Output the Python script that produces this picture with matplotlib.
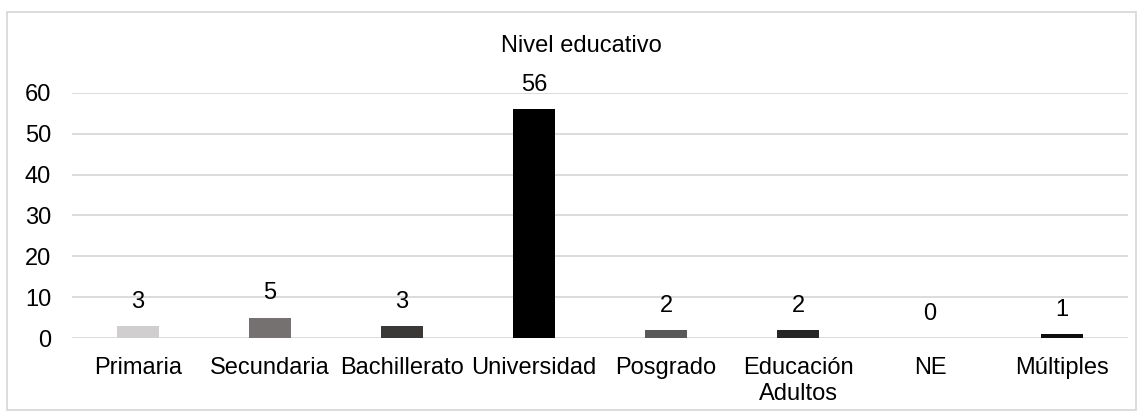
import matplotlib
matplotlib.use("Agg")
import matplotlib.pyplot as plt
from matplotlib.patches import Rectangle

categories = ["Primaria", "Secundaria", "Bachillerato", "Universidad",
              "Posgrado", "Educación\nAdultos", "NE", "Múltiples"]
values = [3, 5, 3, 56, 2, 2, 0, 1]
bar_colors = ["#D0CECE", "#767171", "#3B3838", "#000000",
              "#595959", "#262626", "#404040", "#0D0D0D"]
y_ticks = [0, 10, 20, 30, 40, 50, 60]

plt.rcParams["font.family"] = ["Liberation Sans", "DejaVu Sans"]

fig = plt.figure(figsize=(11.43, 4.17), dpi=100)
ax = fig.add_axes([0.063, 0.1894, 0.924, 0.5877])

x = range(len(categories))
bars = ax.bar(x, values, width=0.32, color=bar_colors, zorder=3)

for b, v in zip(bars, values):
    ax.annotate(str(v), (b.get_x() + b.get_width() / 2, v),
                xytext=(0, 9.5), textcoords="offset points",
                ha="center", va="bottom", fontsize=17, color="#000000")

ax.set_xlim(-0.5, len(categories) - 0.5)
ax.set_ylim(0, 60)
ax.set_yticks(y_ticks)
ax.set_xticks(list(x))
ax.set_xticklabels(categories, fontsize=17, linespacing=1.22)
ax.tick_params(axis="y", labelsize=17, length=0, pad=15)
ax.tick_params(axis="x", length=0, pad=14)
ax.grid(axis="y", color="#D9D9D9", linewidth=1.3, zorder=0)
for s in ax.spines.values():
    s.set_visible(False)

fig.text(0.509, 0.889, "Nivel educativo", ha="center", va="center", fontsize=17)

fig.patches.append(Rectangle((0.006, 0.017), 0.988, 0.954, transform=fig.transFigure,
                             fill=False, edgecolor="#D9D9D9", linewidth=1.3))

plt.savefig("out.png", dpi=100)
